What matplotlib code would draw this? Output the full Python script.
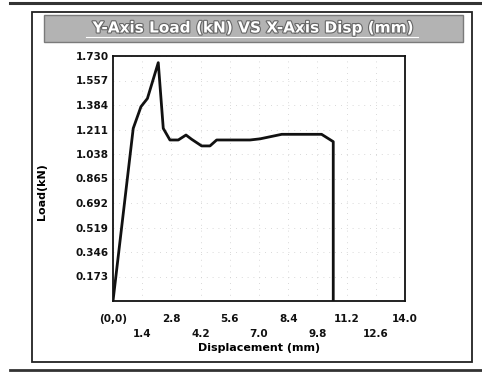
import matplotlib
matplotlib.use("Agg")
import matplotlib.pyplot as plt
import matplotlib.patheffects as pe
from matplotlib.patches import Rectangle
from matplotlib.lines import Line2D

# Data
disp = [0.0, 0.97, 1.34, 1.65, 2.17, 2.41, 2.73, 3.13, 3.50, 3.77, 4.25, 4.65,
        4.97, 6.57, 7.05, 8.09, 10.0, 10.56, 10.56]
load = [0.0, 1.219, 1.372, 1.43, 1.683, 1.219, 1.137, 1.137, 1.172, 1.142, 1.095, 1.095,
        1.137, 1.137, 1.145, 1.177, 1.177, 1.125, 0.0]
xticks = [0.0, 1.4, 2.8, 4.2, 5.6, 7.0, 8.4, 9.8, 11.2, 12.6, 14.0]
xlabels = ["(0,0)", "1.4", "2.8", "4.2", "5.6", "7.0", "8.4", "9.8", "11.2", "12.6", "14.0"]
yticks = [0.173, 0.346, 0.519, 0.692, 0.865, 1.038, 1.211, 1.384, 1.557, 1.730]
ylabels = ["0.173", "0.346", "0.519", "0.692", "0.865", "1.038", "1.211", "1.384", "1.557", "1.730"]
title = "Y-Axis Load (kN) VS X-Axis Disp (mm)"

W, H = 482, 374
fig = plt.figure(figsize=(W / 100, H / 100), dpi=100)
fig.patch.set_facecolor("white")

def fx(px):
    return px / W

def fy(py):
    return 1 - py / H

# outer frame
fig.add_artist(Rectangle((fx(32), fy(362)), fx(472) - fx(32), fy(12) - fy(362),
                         transform=fig.transFigure, fill=False, edgecolor="#222222", lw=1.3))
# scan lines top / bottom
fig.add_artist(Line2D([fx(10), fx(482)], [fy(3), fy(3)], transform=fig.transFigure,
                      color="#333333", lw=2.2))
fig.add_artist(Line2D([fx(10), fx(482)], [fy(370), fy(370)], transform=fig.transFigure,
                      color="#333333", lw=2.0))

# title bar
fig.add_artist(Rectangle((fx(44), fy(42)), fx(463) - fx(44), fy(15) - fy(42),
                         transform=fig.transFigure, facecolor="#b3b3b3", edgecolor="#7a7a7a", lw=1.0))
t = fig.text(fx(252), fy(28), title, ha="center", va="center", color="white",
             fontsize=11, fontweight="bold", family="DejaVu Sans")
t.set_path_effects([pe.withStroke(linewidth=1.6, foreground="#666666")])
fig.add_artist(Line2D([fx(86), fx(418)], [fy(37), fy(37)], transform=fig.transFigure,
                      color="white", lw=0.8))

ax = fig.add_axes([fx(113), fy(301), fx(405) - fx(113), fy(56) - fy(301)])
ax.plot(disp, load, color="#111111", lw=2.0, solid_joinstyle="round")
ax.set_xlim(0, 14)
ax.set_ylim(0, 1.73)

ax.set_xticks(xticks)
ax.set_xticklabels([lab if i % 2 == 0 else "\n" + lab for i, lab in enumerate(xlabels)])
ax.set_yticks(yticks)
ax.set_yticklabels(ylabels)
ax.tick_params(length=0, labelsize=7.5, colors="#111111")
ax.tick_params(axis="x", pad=9)
ax.tick_params(axis="y", pad=3)
for lab in ax.get_xticklabels():
    lab.set_fontweight("bold")
    lab.set_linespacing(1.7)
for lab in ax.get_yticklabels():
    lab.set_fontweight("bold")

ax.grid(True, color="#cccccc", lw=0.6, linestyle=(0, (1, 6)))
for s in ax.spines.values():
    s.set_color("#111111")
    s.set_linewidth(1.3)

ax.set_xlabel("Displacement (mm)", fontsize=8, fontweight="bold", labelpad=3)
ax.set_ylabel("Load(kN)", fontsize=8, fontweight="bold")
ax.yaxis.set_label_coords(-0.225, 0.445)

fig.savefig("out.png", dpi=100)
